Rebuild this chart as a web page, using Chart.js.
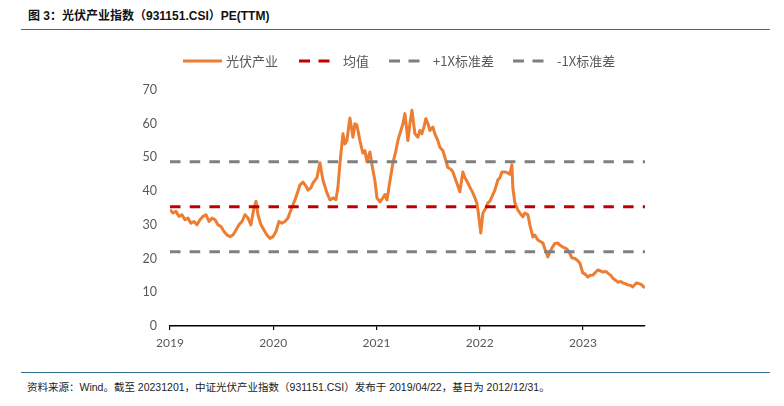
<!DOCTYPE html>
<html><head><meta charset="utf-8">
<script src="https://cdn.jsdelivr.net/npm/chart.js@4.4.0/dist/chart.umd.min.js"></script>
<style>
body{margin:0;width:784px;height:406px;background:#fff;position:relative;overflow:hidden;font-family:"Liberation Sans","Noto Sans CJK SC",sans-serif;}
#title{position:absolute;left:28px;top:9px;font-size:12px;font-weight:bold;color:#111;white-space:nowrap;line-height:14px;}
.rule{position:absolute;left:21px;width:749px;height:0;border-top:1.5px solid #2F6E8E;}
#foot{position:absolute;left:27px;top:380px;font-size:10.5px;color:#222;white-space:nowrap;line-height:14px;}
.lg{position:absolute;top:52px;font-family:"Noto Sans CJK SC",sans-serif;font-size:13px;color:#595959;white-space:nowrap;line-height:17px;}
.lgl{position:absolute;top:59px;}
#c{position:absolute;left:0;top:0;}
</style></head>
<body>
<div id="title">图 3：光伏产业指数（931151.CSI）PE(TTM)</div>
<div class="rule" style="top:28.5px"></div>
<div class="rule" style="top:371.5px"></div>
<div id="foot">资料来源：Wind。截至 20231201，中证光伏产业指数（931151.CSI）发布于 2019/04/22，基日为 2012/12/31。</div>
<canvas id="c" width="784" height="406"></canvas>
<div id="legend"></div>
<script>
// ---- data ----
const dates = [2019.000,2019.029,2019.058,2019.087,2019.116,2019.145,2019.174,2019.203,2019.232,2019.261,2019.290,2019.319,2019.349,2019.378,2019.407,2019.436,2019.465,2019.494,2019.523,2019.552,2019.581,2019.610,2019.639,2019.668,2019.697,2019.726,2019.755,2019.784,2019.813,2019.833,2019.852,2019.881,2019.910,2019.939,2019.968,2019.997,
2020.026,2020.055,2020.084,2020.113,2020.142,2020.171,2020.210,2020.239,2020.258,2020.288,2020.317,2020.336,2020.365,2020.384,2020.423,2020.452,2020.481,2020.520,2020.549,2020.578,2020.607,2020.626,2020.646,2020.675,2020.694,2020.713,2020.742,2020.772,2020.791,2020.810,2020.839,2020.868,2020.888,2020.907,2020.936,2020.955,2020.965,2020.985,
2021.004,2021.033,2021.062,2021.081,2021.101,2021.130,2021.159,2021.188,2021.207,2021.226,2021.256,2021.275,2021.304,2021.323,2021.343,2021.372,2021.401,2021.420,2021.439,2021.459,2021.478,2021.498,2021.517,2021.546,2021.565,2021.594,2021.614,2021.643,2021.662,2021.691,2021.720,2021.740,2021.759,2021.778,2021.807,2021.836,2021.856,2021.875,2021.904,2021.933,2021.953,2021.972,2021.991,
2022.010,2022.030,2022.059,2022.078,2022.098,2022.117,2022.146,2022.175,2022.195,2022.214,2022.243,2022.272,2022.291,2022.311,2022.320,2022.340,2022.369,2022.388,2022.417,2022.437,2022.466,2022.485,2022.514,2022.533,2022.562,2022.591,2022.611,2022.640,2022.659,2022.679,2022.698,2022.727,2022.756,2022.775,2022.804,2022.834,2022.853,2022.872,2022.892,2022.921,2022.940,2022.969,2022.998,
2023.017,2023.046,2023.066,2023.095,2023.124,2023.143,2023.172,2023.192,2023.221,2023.240,2023.269,2023.288,2023.317,2023.337,2023.366,2023.385,2023.414,2023.433,2023.462,2023.482,2023.501,2023.520,2023.550,2023.569,2023.598];
const peValues = [34.5,33.5,34,32.5,33,31.5,32,30.5,31,30,31.5,32.5,33,31,32,31.5,30,29.5,28,27,26.5,27,28.5,30,31,33,32,30,35,37,33,30,28.5,27,26,26.5,
28,31,30.5,31,32,34.4,37.4,40,41.8,42.7,41.5,40.3,41,42.4,44,48.4,43.3,39.5,37.4,38,37.5,41,48.4,57,54,55,61.7,56,60,59.6,55,51.3,52,48.7,51.6,48,46.3,43,
38,36.8,38,39,37.4,43,48.4,52,55,57,60,63,55,60,64,57,56,58,57,59,61.5,60,58,59,57,55,53,52,50,47,46.5,45.7,44,42.4,39.8,45.7,44,43,41.2,39.5,38,36.5,32.4,
27.6,33.5,35,36.5,37,38.3,40.3,43.3,44,45.7,45.7,45.4,45,47.8,41,36.5,34.4,33.5,32.4,33.5,33,30,26.4,27,25.5,25,24.6,22,20.5,22,23.1,24.5,24.6,24,23.4,23,22.5,21.5,20.2,20,19.6,18.7,15.7,
15.5,14.5,15,15.1,16,16.6,16.3,16,16.2,15.7,15,14.2,13.5,13,13.2,12.8,12.5,12.2,12,11.6,12.3,12.8,12.5,12.2,11.3];
const meanPE = 35.4;
const plus1Std = 48.7;
const minus1Std = 22.0;
const yearTicks = [2019,2020,2021,2022,2023];
const seriesNames = ['光伏产业','均值','+1X标准差','-1X标准差'];
const xMin = 2019, xMax = 2023.6;
const yTicks = [0,10,20,30,40,50,60,70];

// ---- legend (HTML) ----
const legendSpec = [
  {lx:183, tx:226, color:'#ED7D31', dash:null},
  {lx:299, tx:343, color:'#C00000', dash:'11 8.5'},
  {lx:389, tx:433, color:'#7F7F7F', dash:'11 8.5'},
  {lx:513, tx:557, color:'#7F7F7F', dash:'11 8.5'}
];
const lg = document.getElementById('legend');
legendSpec.forEach((s,i)=>{
  const w = i===0 ? 39 : 31;
  lg.insertAdjacentHTML('beforeend',
    `<svg class="lgl" style="left:${s.lx}px" width="${w}" height="4"><line x1="0" y1="2" x2="${w}" y2="2" stroke="${s.color}" stroke-width="3" ${s.dash?`stroke-dasharray="${s.dash}"`:''}/></svg>` +
    `<div class="lg" style="left:${s.tx}px">${seriesNames[i]}</div>`);
});

// ---- chart ----
const mainPts = dates.map((d,i)=>({x:d,y:peValues[i]}));
const hline = v => [{x:xMin,y:v},{x:xMax,y:v}];
const dash = [10.5,9.2];
new Chart(document.getElementById('c'), {
  type:'line',
  data:{datasets:[
    {label:seriesNames[1], data:hline(meanPE), borderColor:'#C00000', borderWidth:3, borderDash:dash, pointRadius:0, order:1},
    {label:seriesNames[2], data:hline(plus1Std), borderColor:'#7F7F7F', borderWidth:3, borderDash:dash, pointRadius:0, order:2},
    {label:seriesNames[3], data:hline(minus1Std), borderColor:'#7F7F7F', borderWidth:3, borderDash:dash, pointRadius:0, order:3},
    {label:seriesNames[0], data:mainPts, borderColor:'#ED7D31', borderWidth:3, pointRadius:0, tension:0, order:10, borderJoinStyle:'round'}
  ]},
  options:{
    responsive:false, animation:false, devicePixelRatio:1,
    layout:{padding:{left:0,right:139,top:90,bottom:50}},
    plugins:{legend:{display:false}, tooltip:{enabled:false}},
    scales:{
      x:{type:'linear', min:xMin, max:xMax,
        afterBuildTicks:s=>{s.ticks = yearTicks.map(v=>({value:v}));},
        afterFit:s=>{s.height=30;},
        ticks:{callback:v=>String(v), color:'#595959', font:{family:'Lato', size:12}, padding:6, maxRotation:0, autoSkip:false},
        grid:{drawOnChartArea:false, drawTicks:true, tickLength:4, color:'#000', lineWidth:1.2},
        border:{display:true, color:'#000', width:1.5}
      },
      y:{min:0, max:70,
        afterBuildTicks:s=>{s.ticks = yTicks.map(v=>({value:v}));},
        afterFit:s=>{s.width=170;},
        ticks:{color:'#595959', font:{family:'Lato', size:12.5}, padding:13},
        grid:{display:false, drawTicks:false},
        border:{display:false}
      }
    }
  }
});
</script>
</body></html>
